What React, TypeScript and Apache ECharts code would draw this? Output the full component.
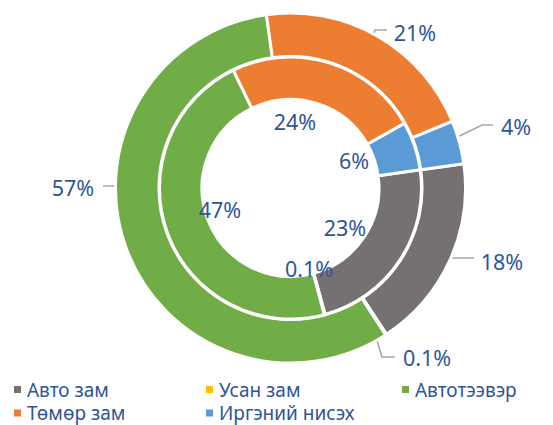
import React, { useEffect, useRef } from "react";
import * as echarts from "echarts";

const categories = ["Авто зам", "Усан зам", "Автотээвэр", "Төмөр зам", "Иргэний нисэх"];
const outerValues = [18, 0.1, 57, 21, 4];
const innerValues = [23, 0.1, 47, 24, 6];
const colors = ["#767171", "#FFC000", "#70AD47", "#ED7D31", "#5B9BD5"];

// label placement (text centres) and leader lines
const outerLabelPos: [number, number][] = [[502, 261], [427, 357], [73, 187], [415, 32], [516, 126]];
const outerLines: number[][][] = [
  [[430, 253], [452, 258], [474, 258]],
  [[370, 318], [382, 357], [395, 357]],
  [[146, 240], [115, 186], [103, 186]],
  [[366, 53], [375, 30], [387, 30]],
  [[439, 146], [482, 125], [493, 125]],
];
const innerLabelPos: [number, number][] = [[345, 227], [309, 268], [220, 209], [295, 121], [354, 160]];
const innerLines: (number[][] | null)[] = [null, null, null, [[321, 83], [308, 92], [295, 101]], null];

// legend grid (column left edges, row tops)
const legendCols = [12, 204, 400];
const legendRows = [379.5, 403];

const LABEL_COLOR = "#2F5597";
const FONT = "'Noto Sans', 'Liberation Sans', sans-serif";

export default function App() {
  const ref = useRef<HTMLDivElement>(null);
  useEffect(() => {
    if (!ref.current) return;
    const chart = echarts.init(ref.current, undefined, { renderer: "svg" });
    const mkData = (vals: number[], lines: (number[][] | null)[]) =>
      vals.map((v, i) => ({
        name: categories[i],
        value: v,
        itemStyle: { color: colors[i] },
        labelLine: { show: !!lines[i] },
      }));
    const mkLayout = (pos: [number, number][], lines: (number[][] | null)[]) => (p: any) => {
      const i = p.dataIndex;
      const r: any = { x: pos[i][0], y: pos[i][1], align: "center", verticalAlign: "middle" };
      if (lines[i]) r.labelLinePoints = lines[i];
      return r;
    };
    const common = {
      type: "pie",
      center: [290.5, 188],
      startAngle: 8,
      clockwise: true,
      avoidLabelOverlap: false,
      silent: true,
      itemStyle: { borderColor: "#ffffff", borderWidth: 3 },
      label: {
        show: true,
        position: "outside",
        formatter: "{c}%",
        color: LABEL_COLOR,
        fontSize: 21.5,
        fontFamily: FONT,
      },
      labelLine: { show: true, lineStyle: { color: "#A6A6A6", width: 1.6 }, length: 10, length2: 10 },
      emphasis: { disabled: true },
    };
    const legends = categories.map((name, i) => ({
      data: [name],
      left: legendCols[i % 3],
      top: legendRows[Math.floor(i / 3)],
      padding: 0,
      orient: "horizontal",
      icon: "rect",
      itemWidth: 9,
      itemHeight: 9,
      selectedMode: false,
      textStyle: { color: LABEL_COLOR, fontSize: 19, lineHeight: 20, fontFamily: FONT },
    }));
    chart.setOption({
      animation: false,
      backgroundColor: "#ffffff",
      legend: legends,
      series: [
        {
          ...common,
          name: "outer",
          radius: [131.5, 175],
          data: mkData(outerValues, outerLines),
          labelLayout: mkLayout(outerLabelPos, outerLines),
        },
        {
          ...common,
          name: "inner",
          radius: [88.5, 131],
          data: mkData(innerValues, innerLines),
          labelLayout: mkLayout(innerLabelPos, innerLines),
        },
      ],
    });
    return () => chart.dispose();
  }, []);
  return (
    <div
      ref={ref}
      style={{ position: "fixed", left: 0, top: 0, width: 553, height: 425, background: "#fff" }}
    />
  );
}
